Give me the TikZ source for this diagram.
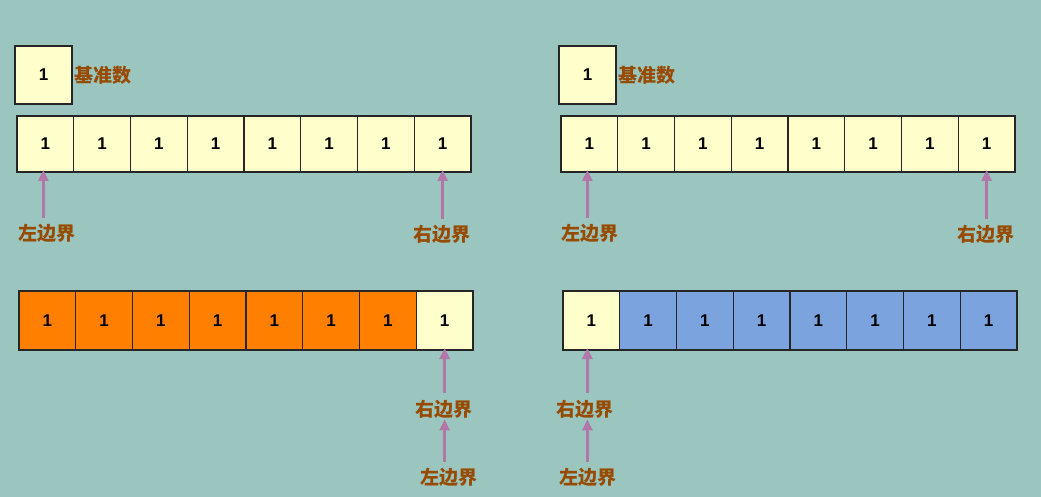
\documentclass[tikz,border=0pt]{standalone}
\usepackage{fontspec}
\usepackage{xcolor}
\usetikzlibrary{arrows.meta,positioning}
\newfontfamily\cjk{Noto Sans CJK SC}
\setsansfont{Liberation Sans}
\definecolor{bgteal}{RGB}{155,198,192}
\definecolor{cellyellow}{RGB}{255,255,204}
\definecolor{cellorange}{RGB}{255,128,0}
\definecolor{cellblue}{RGB}{123,163,222}
\definecolor{labelbrown}{RGB}{150,75,0}
\definecolor{arrowpink}{RGB}{178,118,168}
\tikzset{
    cell-box/.style = {draw=black!85, fill=cellyellow, line width=1.2pt, rectangle, minimum width=56.75pt, minimum height=56pt, inner sep=0pt, outer sep=0pt, font=\sffamily\bfseries\fontsize{17}{17}\selectfont},
    pivot-box/.style = {cell-box, minimum width=57pt, minimum height=58pt},
    bound-label/.style = {text=labelbrown, inner sep=1pt, font=\cjk\bfseries\fontsize{19}{19}\selectfont},
    bound-arrow/.style = {draw=arrowpink, line width=2.8pt, -{Triangle[length=11pt,width=10pt]}},
}
\begin{document}
\begin{tikzpicture}[x=1pt,y=-1pt]
\fill[bgteal] (0,0) rectangle (1041,497);
\useasboundingbox (0,0) rectangle (1041,497);
% top left
\node[pivot-box] (pivotA) at (43.5,75) {1};
\node[bound-label, right=1pt of pivotA] {基准数};
\foreach \i in {1,...,8}
    \node[cell-box] (a\i) at ({17+56.75*(\i-0.5)},144) {1};
\node[bound-label] (aleft) at (47,233) {左边界};
\node[bound-label] (aright) at (442,234) {右边界};
\draw[bound-arrow, shorten <=5pt] ([xshift=-2pt]a1.south |- aleft.north) -- ([xshift=-2pt,yshift=2pt]a1.south);
\draw[bound-arrow, shorten <=5pt] (a8.south |- aright.north) -- ([yshift=2pt]a8.south);
% top right
\node[pivot-box] (pivotB) at (587.5,75) {1};
\node[bound-label, right=1pt of pivotB] {基准数};
\foreach \i in {1,...,8}
    \node[cell-box] (b\i) at ({561+56.75*(\i-0.5)},144) {1};
\node[bound-label] (bleft) at (590,233) {左边界};
\node[bound-label] (bright) at (986,234) {右边界};
\draw[bound-arrow, shorten <=5pt] ([xshift=-2pt]b1.south |- bleft.north) -- ([xshift=-2pt,yshift=2pt]b1.south);
\draw[bound-arrow, shorten <=5pt] (b8.south |- bright.north) -- ([yshift=2pt]b8.south);
% bottom left: all smaller than pivot
\foreach \i in {1,...,7}
    \node[cell-box, fill=cellorange, minimum height=59pt] (c\i) at ({19+56.75*(\i-0.5)},320.5) {1};
\node[cell-box, minimum height=59pt] (c8) at ({19+56.75*7.5},320.5) {1};
\node[bound-label] (cright) at (444,409) {右边界};
\node[bound-label] (cleft) at (449,477) {左边界};
\draw[bound-arrow, shorten <=6pt] (c8.south |- cright.north) -- ([yshift=2pt]c8.south);
\draw[bound-arrow, shorten <=5pt] (c8.south |- cleft.north) -- (c8.south |- cright.south);
% bottom right: all larger than pivot
\node[cell-box, minimum height=59pt] (d1) at ({563+56.75*0.5},320.5) {1};
\foreach \i in {2,...,8}
    \node[cell-box, fill=cellblue, minimum height=59pt] (d\i) at ({563+56.75*(\i-0.5)},320.5) {1};
\node[bound-label] (dright) at (585,409) {右边界};
\node[bound-label] (dleft) at (588,477) {左边界};
\draw[bound-arrow, shorten <=6pt] ([xshift=-4pt]d1.south |- dright.north) -- ([xshift=-4pt,yshift=2pt]d1.south);
\draw[bound-arrow, shorten <=5pt] ([xshift=-4pt]d1.south |- dleft.north) -- ([xshift=-4pt]d1.south |- dright.south);
\end{tikzpicture}
\end{document}
